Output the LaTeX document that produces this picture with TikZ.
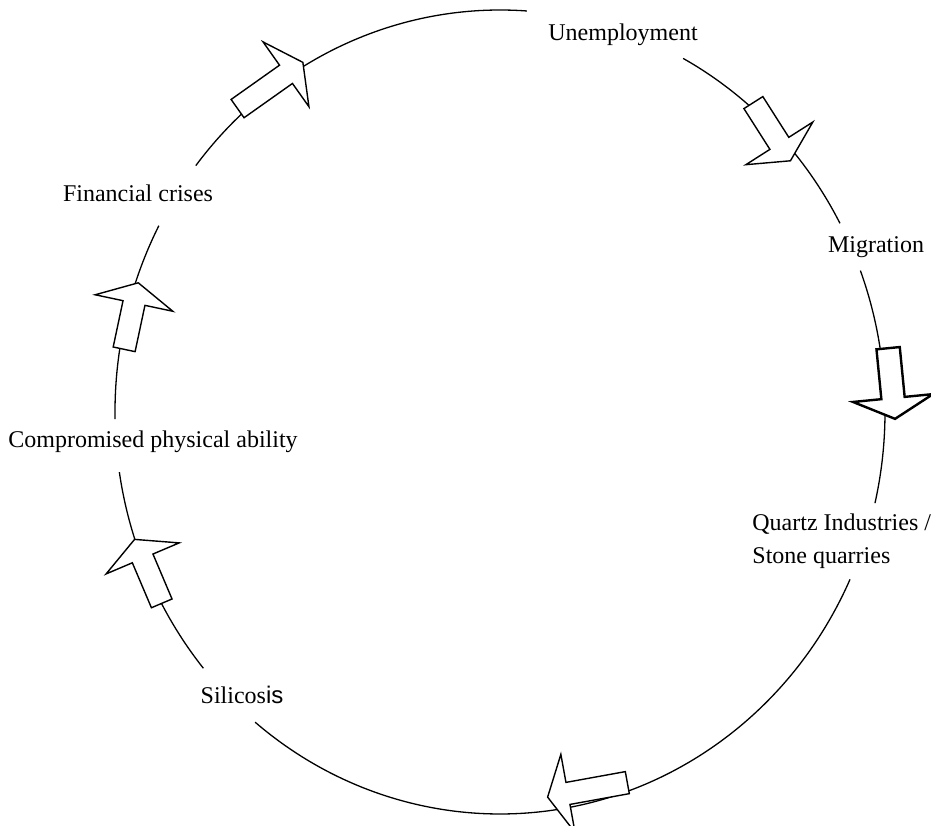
\documentclass[tikz,border=0pt]{standalone}
\usepackage{fontspec}
\setmainfont{Liberation Serif}
\setsansfont{Liberation Sans}
\usetikzlibrary{shapes.arrows}
\begin{document}
\begin{tikzpicture}[x=0.5pt,y=0.5pt,
    stage/.style={font=\fontsize{12}{16.5}\selectfont, inner sep=0pt},
    blockarr/.style={draw, fill=white, line width=0.7pt, single arrow, single arrow head extend=14.25pt,
        single arrow tip angle=125, inner xsep=0pt, inner ysep=5.25pt, anchor=tail}]
    \useasboundingbox (0,0) rectangle (931,-825);
    \coordinate (ctr) at (500,-412);

    % Cycle arcs, broken at the labels
    \foreach \s/\e in {142.2/86, 61.6/28, 20.6/-13.1, -24.6/-129.5, -140.4/-171.4, 181/152.4}
        \draw[line width=0.65pt] ([shift={(\s:385 and 402)}]ctr) arc[start angle=\s, end angle=\e, x radius=385, y radius=402];

    % Stages
    \node[stage] (unemp) at (623,-35) {Unemployment};
    \node[stage] (migr) at (876,-247) {Migration};
    \node[stage, anchor=west, align=left] (quartz) at (752,-541.5) {Quartz Industries /\\Stone quarries};
    \node[stage] (silic) at (242,-695) {Silicos{\sffamily is}};
    \node[stage] (comp) at (153,-442) {Compromised physical ability};
    \node[stage] (fin) at (138,-193) {Financial crises};

    % Block arrows along the cycle
    \node[blockarr, minimum height=40pt, rotate=35.3] (finToUnemp) at (237,-109) {};
    \node[blockarr, minimum height=34.5pt, rotate=-57.5] (unempToMigr) at (753,-102) {};
    \node[blockarr, minimum height=35.5pt, rotate=-84.4, line width=1.2pt] (migrToQuartz) at (888,-347) {};
    \node[blockarr, minimum height=40.5pt, rotate=190.3] (quartzToSilic) at (628,-782.5) {};
    \node[blockarr, minimum height=34.75pt, rotate=113] (silicToComp) at (162,-604) {};
    \node[blockarr, minimum height=34pt, rotate=78] (compToFin) at (124,-350) {};
\end{tikzpicture}
\end{document}
